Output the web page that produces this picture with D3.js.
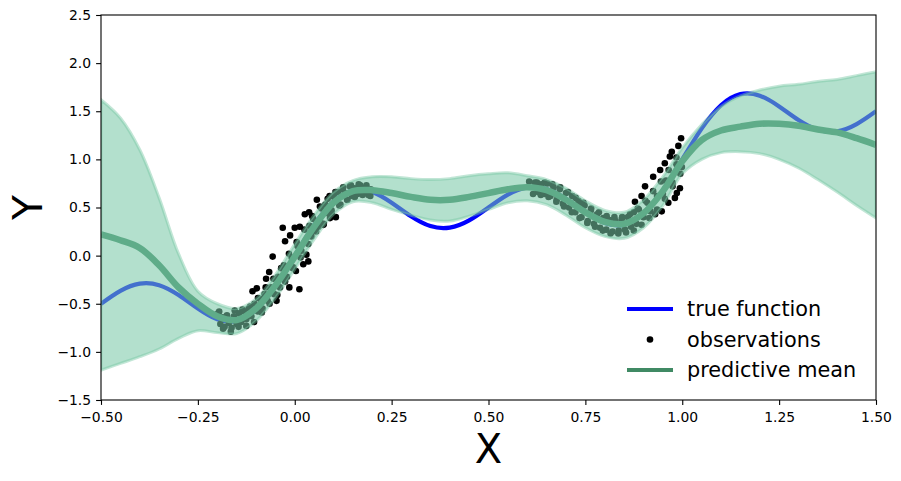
<!DOCTYPE html>
<html>
<head>
<meta charset="utf-8">
<script src="https://cdn.jsdelivr.net/npm/d3@7"></script>
<style>
  html, body { margin: 0; padding: 0; background: #fff; }
  svg { display: block; }
  text { font-family: "DejaVu Sans", sans-serif; }
</style>
</head>
<body>
<svg id="chart" width="901" height="481"></svg>
<script>
// ---- data ----
const gridX = [-0.50,-0.45,-0.40,-0.35,-0.30,-0.25,-0.20,-0.15,-0.10,-0.05,0.00,0.05,0.10,0.15,0.20,0.25,0.30,0.35,0.40,0.45,0.50,0.55,0.60,0.65,0.70,0.75,0.80,0.85,0.90,0.95,1.00,1.05,1.10,1.15,1.20,1.25,1.30,1.35,1.40,1.45,1.50];
const trueY = [-0.500,-0.366,-0.291,-0.307,-0.409,-0.550,-0.662,-0.678,-0.562,-0.319,0.000,0.319,0.562,0.678,0.662,0.550,0.409,0.307,0.291,0.366,0.500,0.634,0.709,0.693,0.591,0.450,0.338,0.322,0.438,0.681,1.000,1.319,1.562,1.678,1.662,1.550,1.409,1.307,1.291,1.366,1.500];
const meanY = [0.22,0.16,0.08,-0.10,-0.33,-0.50,-0.63,-0.67,-0.55,-0.31,-0.01,0.30,0.55,0.67,0.68,0.65,0.61,0.58,0.58,0.61,0.65,0.69,0.71,0.68,0.58,0.45,0.35,0.33,0.44,0.67,0.98,1.20,1.30,1.34,1.37,1.37,1.35,1.31,1.28,1.22,1.15];
const upperY = [1.62,1.43,1.10,0.60,0.02,-0.37,-0.50,-0.55,-0.45,-0.20,0.12,0.42,0.66,0.78,0.82,0.82,0.80,0.79,0.80,0.83,0.85,0.86,0.83,0.79,0.70,0.57,0.47,0.45,0.58,0.82,1.12,1.36,1.55,1.66,1.72,1.76,1.78,1.81,1.83,1.87,1.91];
const lowerY = [-1.19,-1.12,-1.05,-0.97,-0.86,-0.78,-0.80,-0.81,-0.68,-0.44,-0.14,0.17,0.43,0.56,0.55,0.48,0.42,0.37,0.36,0.41,0.48,0.55,0.57,0.53,0.42,0.29,0.20,0.18,0.29,0.52,0.85,1.00,1.07,1.08,1.06,1.00,0.91,0.79,0.66,0.52,0.39];

const obsX = [-0.198,-0.192,-0.186,-0.181,-0.175,-0.170,-0.163,-0.157,-0.150,-0.144,-0.138,-0.131,-0.125,-0.119,-0.112,-0.109,-0.104,-0.098,-0.095,-0.089,-0.083,-0.078,-0.074,-0.070,-0.066,-0.062,-0.057,-0.053,-0.047,-0.043,-0.038,-0.031,-0.028,-0.025,-0.020,-0.014,-0.012,-0.008,-0.004,0.000,0.003,0.007,0.012,0.013,0.017,0.022,0.026,0.030,0.035,0.037,0.038,0.043,0.048,0.052,0.057,0.061,0.065,0.069,0.074,0.079,0.085,0.090,0.091,0.095,0.101,0.106,0.112,0.118,0.124,0.130,0.136,0.142,0.148,0.155,0.162,0.169,0.176,0.183,0.190,0.196,
  -0.195,-0.185,-0.175,-0.165,-0.155,-0.145,-0.135,-0.125,-0.115,-0.105,-0.095,-0.085,-0.075,-0.065,-0.055,-0.045,-0.035,-0.025,-0.015,-0.005,0.005,0.015,0.025,0.035,0.045,0.055,0.065,0.075,0.085,0.095,0.105,0.115,0.125,0.135,0.145,0.155,0.165,0.175,0.185,0.195,
  0.620,0.628,0.636,0.645,0.652,0.660,0.668,0.676,0.684,0.692,0.700,0.708,0.716,0.724,0.732,0.736,0.740,0.748,0.756,0.764,0.772,0.780,0.788,0.796,0.804,0.812,0.820,0.828,0.836,0.844,0.852,0.860,0.868,0.875,0.878,0.882,0.888,0.895,0.900,0.904,0.910,0.918,0.925,0.930,0.935,0.943,0.947,0.950,0.955,0.958,0.964,0.968,0.973,0.975,0.981,0.985,0.986,0.990,0.994,0.997,0.999,
  0.605,0.615,0.625,0.635,0.645,0.655,0.665,0.675,0.685,0.695,0.705,0.715,0.725,0.735,0.745,0.755,0.765,0.775,0.785,0.795,0.805,0.815,0.825,0.835,0.845,0.855,0.865,0.875,0.885,0.895,0.905,0.915,0.925,0.935,0.945,0.955,0.965,0.975,0.985,0.995];
const obsY = [-0.60,-0.71,-0.64,-0.74,-0.62,-0.70,-0.75,-0.63,-0.71,-0.60,-0.69,-0.58,-0.66,-0.55,-0.63,-0.37,-0.50,-0.34,-0.58,-0.45,-0.55,-0.40,-0.24,-0.47,-0.17,-0.33,-0.01,-0.40,-0.47,-0.22,-0.33,0.29,-0.10,0.15,-0.22,-0.33,0.21,-0.02,-0.12,0.29,-0.16,0.10,-0.35,0.30,0.05,-0.09,0.43,0.01,-0.06,0.45,0.31,0.20,0.38,0.26,0.58,0.30,0.36,0.49,0.32,0.53,0.44,0.62,0.39,0.47,0.61,0.40,0.66,0.53,0.69,0.65,0.58,0.72,0.62,0.70,0.64,0.73,0.65,0.71,0.63,0.69,
  -0.58,-0.76,-0.63,-0.79,-0.57,-0.74,-0.56,-0.73,-0.53,-0.69,-0.44,-0.59,-0.33,-0.50,-0.24,-0.41,-0.13,-0.27,0.02,-0.13,0.14,-0.02,0.27,0.12,0.41,0.25,0.51,0.33,0.59,0.44,0.66,0.52,0.71,0.58,0.73,0.61,0.74,0.63,0.73,0.62,
  0.76,0.66,0.74,0.64,0.75,0.62,0.71,0.58,0.69,0.54,0.65,0.50,0.62,0.45,0.57,0.55,0.40,0.52,0.36,0.47,0.33,0.43,0.29,0.39,0.27,0.37,0.25,0.36,0.26,0.38,0.27,0.40,0.30,0.45,0.56,0.33,0.48,0.62,0.40,0.72,0.55,0.46,0.82,0.43,0.62,0.89,0.46,0.64,0.96,0.78,0.55,1.03,1.08,0.76,0.60,0.95,0.65,1.14,0.70,1.22,0.92,
  0.77,0.64,0.76,0.63,0.76,0.61,0.74,0.56,0.71,0.51,0.66,0.45,0.60,0.39,0.55,0.34,0.49,0.30,0.45,0.26,0.41,0.23,0.40,0.23,0.40,0.24,0.43,0.26,0.49,0.32,0.57,0.39,0.67,0.48,0.77,0.59,0.89,0.72,1.02,0.85];

const xTicks = [-0.50,-0.25,0.00,0.25,0.50,0.75,1.00,1.25,1.50];
const yTicks = [-1.5,-1.0,-0.5,0.0,0.5,1.0,1.5,2.0,2.5];
const legendLabels = ["true function","observations","predictive mean"];

// ---- layout ----
const svg = d3.select("#chart");
const L = 101, R = 876, T = 15, B = 400;
const x = d3.scaleLinear().domain([-0.5, 1.5]).range([L, R]);
const y = d3.scaleLinear().domain([-1.5, 2.5]).range([B, T]);

const BLUE = "#0000ff";
const MEAN = "rgb(64,138,100)";
const BAND = "rgb(120,200,165)";

svg.append("defs").append("clipPath").attr("id", "plotclip")
  .append("rect").attr("x", L).attr("y", T).attr("width", R - L).attr("height", B - T);

const plot = svg.append("g").attr("clip-path", "url(#plotclip)");

const pts = (ys) => gridX.map((v, i) => [v, ys[i]]);

// true function
plot.append("path")
  .datum(pts(trueY))
  .attr("fill", "none")
  .attr("stroke", BLUE)
  .attr("stroke-width", 4.2)
  .attr("d", d3.line().x(d => x(d[0])).y(d => y(d[1])).curve(d3.curveNatural));

// observations
plot.append("g").selectAll("circle")
  .data(obsX.map((v, i) => [v, obsY[i]]))
  .join("circle")
  .attr("cx", d => x(d[0]))
  .attr("cy", d => y(d[1]))
  .attr("r", 3.3)
  .attr("fill", "#000");

// predictive mean
plot.append("path")
  .datum(pts(meanY))
  .attr("fill", "none")
  .attr("stroke", MEAN)
  .attr("stroke-width", 6.5)
  .attr("stroke-linejoin", "round")
  .attr("d", d3.line().x(d => x(d[0])).y(d => y(d[1])).curve(d3.curveCatmullRom.alpha(0.5)));

// uncertainty band (drawn on top, translucent)
const bandData = gridX.map((v, i) => ({ x: v, lo: lowerY[i], hi: upperY[i] }));
const area = d3.area()
  .x(d => x(d.x)).y0(d => y(d.lo)).y1(d => y(d.hi))
  .curve(d3.curveCatmullRom.alpha(0.5));
plot.append("path")
  .datum(bandData)
  .attr("fill", BAND)
  .attr("fill-opacity", 0.56)
  .attr("stroke", BAND)
  .attr("stroke-opacity", 0.45)
  .attr("stroke-width", 3)
  .attr("d", area);

// frame
svg.append("rect")
  .attr("x", L).attr("y", T).attr("width", R - L).attr("height", B - T)
  .attr("fill", "none").attr("stroke", "#000").attr("stroke-width", 1.1);

// axes
const fmtX = d => (d < 0 ? "\u2212" : "") + Math.abs(d).toFixed(2);
const fmtY = d => (d < 0 ? "\u2212" : "") + Math.abs(d).toFixed(1);

const gx = svg.append("g").attr("transform", `translate(0,${B})`)
  .call(d3.axisBottom(x).tickValues(xTicks).tickFormat(fmtX).tickSize(4.9).tickSizeOuter(0).tickPadding(7));
const gy = svg.append("g").attr("transform", `translate(${L},0)`)
  .call(d3.axisLeft(y).tickValues(yTicks).tickFormat(fmtY).tickSize(4.9).tickSizeOuter(0).tickPadding(5));
[gx, gy].forEach(g => {
  g.select(".domain").remove();
  g.selectAll(".tick line").attr("stroke", "#000").attr("stroke-width", 1.1);
  g.selectAll(".tick text").attr("fill", "#000").style("font-size", "13.9px").style("font-family", "DejaVu Sans");
});

// axis labels
svg.append("text")
  .attr("x", (L + R) / 2).attr("y", 463)
  .attr("text-anchor", "middle")
  .style("font-size", "40px")
  .text("X");
svg.append("text")
  .attr("transform", `translate(41.5,${(T + B) / 2}) rotate(-90)`)
  .attr("text-anchor", "middle")
  .style("font-size", "41px")
  .text("Y");

// legend
const leg = svg.append("g");
const rows = [309, 339.5, 370];
leg.append("line").attr("x1", 627).attr("x2", 673).attr("y1", rows[0]).attr("y2", rows[0])
  .attr("stroke", BLUE).attr("stroke-width", 4.2);
leg.append("circle").attr("cx", 650).attr("cy", rows[1]).attr("r", 3.3).attr("fill", "#000");
leg.append("line").attr("x1", 627).attr("x2", 673).attr("y1", rows[2]).attr("y2", rows[2])
  .attr("stroke", MEAN).attr("stroke-width", 4.2);
legendLabels.forEach((t, i) => {
  leg.append("text")
    .attr("x", 687).attr("y", rows[i]).attr("dy", "0.36em")
    .style("font-size", "20.8px")
    .attr("fill", "#000")
    .text(t);
});
</script>
</body>
</html>
